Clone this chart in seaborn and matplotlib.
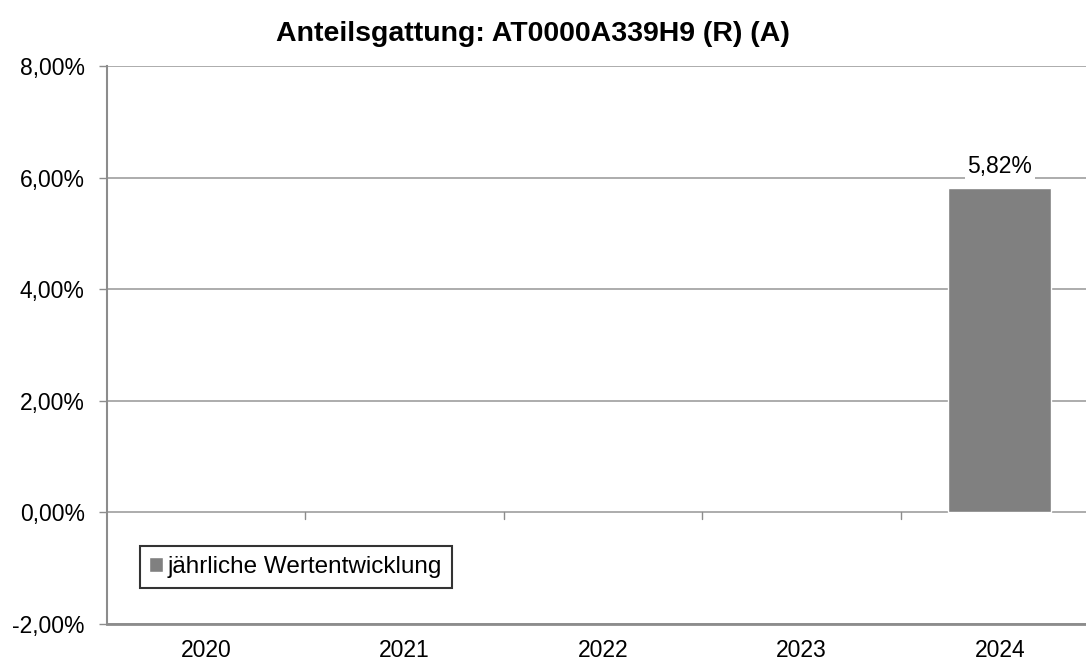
import seaborn as sns
import matplotlib.pyplot as plt
import pandas as pd

years = ["2020", "2021", "2022", "2023", "2024"]
returns = [None, None, None, None, 5.82]
series_name = "jährliche Wertentwicklung"
title = "Anteilsgattung: AT0000A339H9 (R) (A)"
y_ticks = [-2, 0, 2, 4, 6, 8]

df = pd.DataFrame({"year": years, "value": returns})

sns.set_style("white")
plt.rcParams["font.family"] = ["Liberation Sans", "DejaVu Sans"]
plt.rcParams["text.color"] = "black"
plt.rcParams["xtick.color"] = "black"
plt.rcParams["ytick.color"] = "black"

fig = plt.figure(figsize=(10.86, 6.63), dpi=100)
ax = fig.add_axes([0.0985, 0.0588, 0.9134, 0.8416])

sns.barplot(x="year", y="value", data=df, color="#808080", saturation=1,
            width=0.52, label=series_name, ax=ax, zorder=3)

ax.set_ylim(-2, 8)
ax.set_xlim(-0.5, 4.5)
ax.set_yticks(y_ticks)
ax.set_yticklabels([f"{v:.2f}".replace(".", ",") + "%" for v in y_ticks])
ax.yaxis.grid(True, color="#a6a6a6", linewidth=1.3, zorder=0)
ax.set_axisbelow(True)

for s in ["top", "right"]:
    ax.spines[s].set_visible(False)
ax.spines["left"].set_color("#8c8c8c")
ax.spines["left"].set_linewidth(1.5)
ax.spines["bottom"].set_color("#8c8c8c")
ax.spines["bottom"].set_linewidth(2)

ax.tick_params(axis="y", left=True, length=6, width=1, color="#8c8c8c", labelsize=16.5,
               labelcolor="black", pad=10)
ax.tick_params(axis="x", bottom=False, labelsize=16.5, labelcolor="black", pad=7)
ax.set_xlabel("")
ax.set_ylabel("")

# category boundary ticks on the zero line
for b in range(len(years) - 1):
    ax.plot([b + 0.5, b + 0.5], [0, -0.12], color="#8c8c8c", linewidth=1, zorder=2)

for i, v in enumerate(returns):
    if v is not None:
        ax.text(i, v + 0.17, f"{v:.2f}".replace(".", ",") + "%", ha="center", va="bottom",
                fontsize=16.5, color="black", zorder=4,
                bbox=dict(facecolor="white", edgecolor="none", pad=2))

fig.text(0.491, 0.948, title, fontsize=20.5, fontweight="bold", color="black",
         ha="center", va="center")

leg = ax.legend(loc="lower left", bbox_to_anchor=(0.033, 0.065), fontsize=17.5,
                frameon=True, fancybox=False, edgecolor="black", handlelength=0.55,
                handleheight=0.55, handletextpad=0.2, borderpad=0.4, borderaxespad=0)
leg.get_frame().set_linewidth(1.5)
for t in leg.get_texts():
    t.set_color("black")

plt.savefig("out.png", dpi=100)
